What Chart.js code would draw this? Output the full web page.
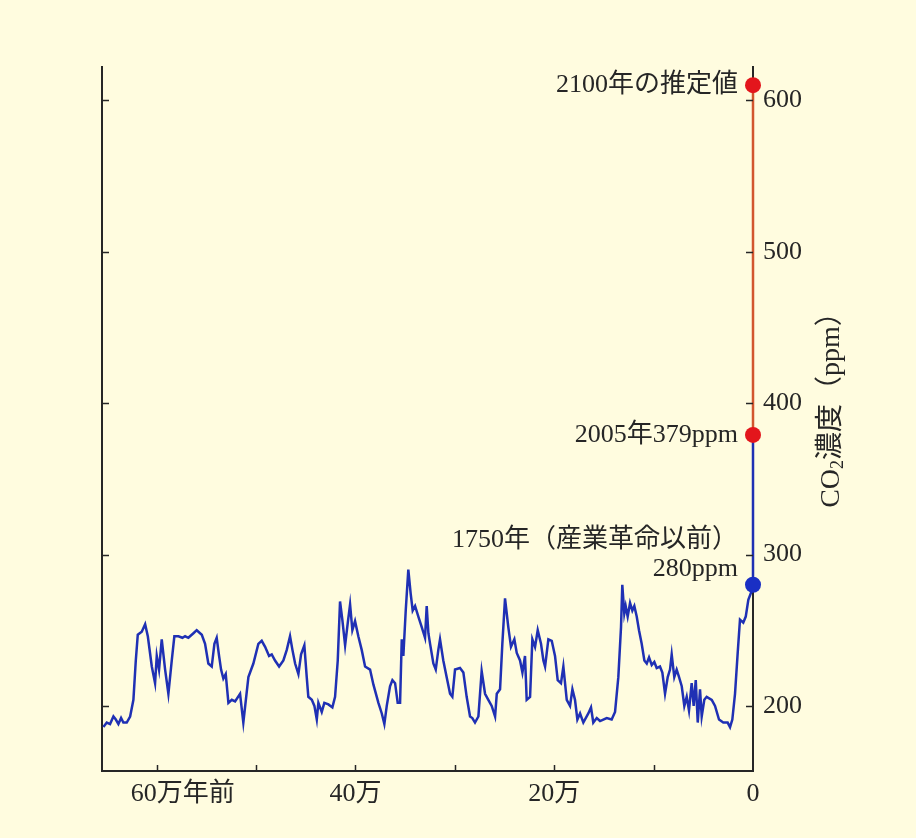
<!DOCTYPE html>
<html lang="ja">
<head>
<meta charset="utf-8">
<title>CO2濃度の変化</title>
<script src="https://cdn.jsdelivr.net/npm/chart.js@4/dist/chart.umd.min.js"></script>
<style>
  html, body { margin: 0; padding: 0; background: #FFFCDF; }
  canvas { display: block; }
</style>
</head>
<body>
<canvas id="co2Chart" width="916" height="838"></canvas>
<script>
// Ice core record: thousand years before present, CO2 in ppm
const iceAges = [
  653.6, 650.2, 646.9, 643.5, 641.1, 638.5, 635.8, 633.5, 630.1, 626.7,
  623.4, 621.0, 619.0, 615.0, 611.6, 608.9, 604.9, 601.6, 599.9, 597.6,
  594.9, 591.5, 588.2, 584.8, 582.2, 578.1, 574.1, 571.4, 568.1, 563.0,
  559.7, 554.6, 551.3, 548.0, 544.6, 541.9, 539.6, 537.2, 535.2, 532.9,
  530.5, 527.8, 524.4, 521.1, 516.1, 512.8, 507.7, 502.7, 497.7, 494.3,
  490.9, 486.9, 484.2, 480.9, 476.8, 472.5, 469.1, 465.8, 463.4, 460.7,
  457.4, 454.7, 451.4, 449.0, 447.4, 443.9, 441.3, 438.9, 437.3, 433.9,
  431.3, 427.2, 423.2, 420.5, 417.8, 415.5, 413.2, 410.4, 407.7, 405.4,
  403.1, 400.4, 397.1, 393.7, 390.3, 385.3, 381.9, 376.9, 373.5, 370.9,
  368.5, 365.2, 362.8, 360.1, 357.5, 355.1, 353.4, 351.8, 349.4, 346.8,
  344.4, 342.4, 340.0, 336.7, 333.3, 330.0, 328.3, 326.6, 324.9, 321.6,
  319.2, 316.6, 314.9, 311.6, 308.2, 304.8, 302.5, 299.8, 294.8, 291.4,
  288.1, 284.7, 282.4, 279.7, 276.3, 273.0, 269.6, 266.3, 262.9, 259.5,
  257.8, 254.5, 252.2, 249.5, 246.2, 243.5, 240.1, 237.7, 234.4, 232.0,
  229.4, 227.7, 224.3, 222.0, 219.3, 216.6, 213.3, 210.9, 209.2, 205.9,
  202.5, 199.2, 196.5, 193.2, 190.8, 187.4, 184.1, 181.7, 179.1, 176.7,
  174.0, 170.7, 165.7, 163.0, 160.7, 157.2, 153.9, 150.6, 147.2, 142.2,
  138.8, 135.5, 132.8, 131.5, 129.5, 128.1, 126.1, 123.7, 121.4, 119.4,
  117.0, 114.7, 112.0, 109.3, 106.9, 104.6, 101.9, 99.3, 96.9, 93.6,
  91.2, 88.5, 85.8, 83.5, 81.8, 79.2, 76.8, 74.4, 71.7, 69.1,
  66.7, 64.4, 61.7, 59.7, 57.6, 55.6, 53.3, 51.6, 49.0, 46.6,
  41.5, 38.2, 34.2, 29.9, 25.5, 23.1, 20.8, 18.1, 15.4, 13.1,
  9.8, 7.3, 4.7, 1.3, 0
];
const icePpm = [
  186, 189, 188, 193, 191, 188, 192, 189, 189, 193,
  204, 230, 247, 249, 254, 246, 226, 215, 233, 224,
  244, 224, 208, 230, 246, 246, 245, 246, 245, 248,
  250, 247, 241, 228, 226, 241, 245, 233, 224, 218,
  221, 202, 204, 203, 208, 189, 219, 228, 241, 243,
  239, 233, 234, 230, 226, 230, 237, 246, 237, 228,
  221, 234, 240, 219, 206, 204, 200, 191, 202, 196,
  202, 201, 199, 206, 230, 269, 257, 240, 255, 267,
  250, 256, 246, 237, 226, 224, 214, 202, 195, 188,
  200, 213, 217, 215, 202, 202, 244, 233, 263, 290,
  274, 263, 266, 259, 252, 245, 266, 248, 241, 228,
  224, 237, 244, 230, 219, 208, 206, 224, 225, 222,
  206, 193, 192, 189, 193, 223, 208, 204, 200, 193,
  208, 211, 241, 271, 252, 239, 244, 235, 230, 222,
  233, 204, 206, 244, 239, 250, 241, 230, 226, 244,
  243, 233, 217, 215, 226, 204, 200, 211, 204, 191,
  195, 189, 195, 199, 189, 192, 190, 191, 192, 191,
  196, 219, 252, 280, 261, 266, 259, 268, 263, 266,
  259, 250, 241, 230, 228, 232, 227, 229, 225, 226,
  222, 208, 219, 224, 234, 219, 224, 219, 213, 200,
  206, 197, 215, 200, 217, 189, 211, 193, 204, 206,
  204, 200, 191, 189, 189, 186, 191, 208, 235, 257,
  255, 259, 270, 276, 280
];

// 1750, 2005 and the 2100 estimate, all at the present end of the axis
const recentAges = [0, 0, 0];
const recentPpm = [280, 379, 610];
const recentLabels = [['1750年（産業革命以前）', '280ppm'], ['2005年379ppm'], ['2100年の推定値']];
const recentColors = ['#1A2FC4', '#E3161C', '#E3161C'];

// Axis ticks
const xTickMarks = [100, 200, 300, 400, 500, 600];
const xTickValues = [600, 400, 200, 0];
const xTickLabels = ['60万年前', '40万', '20万', '0'];
const yTickValues = [200, 300, 400, 500, 600];
const yTitle = ['CO', '2', '濃度（ppm）'];

const FONT = "'Liberation Serif', 'Noto Sans CJK JP', serif";
const INK = '#262626';

// Inward tick marks, x labels, point notes and the y title
const decor = {
  id: 'decor',
  afterDraw(chart) {
    const { ctx, chartArea: a, scales } = chart;
    ctx.save();

    // tick marks pointing into the plot
    ctx.strokeStyle = INK;
    ctx.lineWidth = 1.5;
    ctx.beginPath();
    xTickMarks.forEach(v => {
      const px = Math.round(scales.x.getPixelForValue(v)) + 0.5;
      ctx.moveTo(px, a.bottom);
      ctx.lineTo(px, a.bottom - 6);
    });
    yTickValues.forEach(v => {
      const py = Math.round(scales.y.getPixelForValue(v)) + 0.5;
      ctx.moveTo(a.left, py);
      ctx.lineTo(a.left + 7, py);
      ctx.moveTo(a.right, py);
      ctx.lineTo(a.right - 7, py);
    });
    ctx.stroke();

    // x labels, the number part centred on its tick
    ctx.font = '26px ' + FONT;
    ctx.fillStyle = INK;
    ctx.textBaseline = 'middle';
    ctx.textAlign = 'left';
    xTickValues.forEach((v, i) => {
      const label = xTickLabels[i];
      const w = ctx.measureText(label.replace('年前', '')).width;
      ctx.fillText(label, scales.x.getPixelForValue(v) - w / 2, a.bottom + 23);
    });

    // notes beside the recent points
    const pts = chart.getDatasetMeta(0).data;
    ctx.textAlign = 'right';
    recentLabels.forEach((lines, i) => {
      const p = pts[i];
      const base = lines.length > 1 ? p.y - 16 : p.y;
      lines.forEach((line, j) => {
        ctx.fillText(line, p.x - 15, base - (lines.length - 1 - j) * 29);
      });
    });

    // y title, reading bottom to top
    ctx.translate(a.right + 79, 403);
    ctx.rotate(-Math.PI / 2);
    const big = '28px ' + FONT, small = '18px ' + FONT;
    ctx.font = big;
    const w0 = ctx.measureText(yTitle[0]).width;
    const w2 = ctx.measureText(yTitle[2]).width;
    ctx.font = small;
    const w1 = ctx.measureText(yTitle[1]).width;
    let x = -(w0 + w1 + w2) / 2;
    ctx.textAlign = 'left';
    ctx.font = big;
    ctx.fillText(yTitle[0], x, 0);
    x += w0;
    ctx.font = small;
    ctx.fillText(yTitle[1], x, 6);
    x += w1;
    ctx.font = big;
    ctx.fillText(yTitle[2], x, 0);

    ctx.restore();
  }
};

const toPoints = (xs, ys) => xs.map((x, i) => ({ x: x, y: ys[i] }));

new Chart(document.getElementById('co2Chart'), {
  type: 'line',
  data: {
    datasets: [
      {
        // recent points (drawn on top)
        data: toPoints(recentAges, recentPpm),
        showLine: false,
        pointRadius: 8,
        pointBackgroundColor: recentColors,
        pointBorderColor: recentColors,
        pointBorderWidth: 0,
        clip: false
      },
      {
        // 2005 -> 2100 estimate
        data: toPoints(recentAges.slice(1), recentPpm.slice(1)),
        borderColor: '#D2562E',
        borderWidth: 2.5,
        pointRadius: 0,
        clip: false
      },
      {
        // 1750 -> 2005
        data: toPoints(recentAges.slice(0, 2), recentPpm.slice(0, 2)),
        borderColor: '#1F30B4',
        borderWidth: 2.5,
        pointRadius: 0,
        clip: false
      },
      {
        // ice core record
        data: toPoints(iceAges, icePpm),
        borderColor: '#1F30B4',
        borderWidth: 2.5,
        pointRadius: 0,
        tension: 0
      }
    ]
  },
  options: {
    responsive: false,
    animation: false,
    devicePixelRatio: 1,
    layout: { padding: { left: 102, top: 67, right: 0, bottom: 67 } },
    plugins: {
      legend: { display: false },
      tooltip: { enabled: false }
    },
    scales: {
      x: {
        type: 'linear',
        reverse: true,
        min: 0,
        max: 655,
        grid: { display: false, drawTicks: false },
        border: { display: true, color: INK, width: 2 },
        ticks: { display: false },
        afterFit: s => { s.height = 0; }
      },
      y: {
        position: 'right',
        min: 157,
        max: 622,
        grid: { display: false, drawTicks: false },
        border: { display: true, color: INK, width: 2 },
        afterBuildTicks: s => { s.ticks = yTickValues.map(v => ({ value: v })); },
        ticks: {
          padding: 10,
          color: INK,
          font: { family: FONT, size: 26 }
        },
        afterFit: s => { s.width = 163; }
      },
      yLeft: {
        position: 'left',
        min: 157,
        max: 622,
        grid: { display: false, drawTicks: false },
        border: { display: true, color: INK, width: 2 },
        ticks: { display: false },
        afterFit: s => { s.width = 0; }
      }
    }
  },
  plugins: [decor]
});
</script>
</body>
</html>
